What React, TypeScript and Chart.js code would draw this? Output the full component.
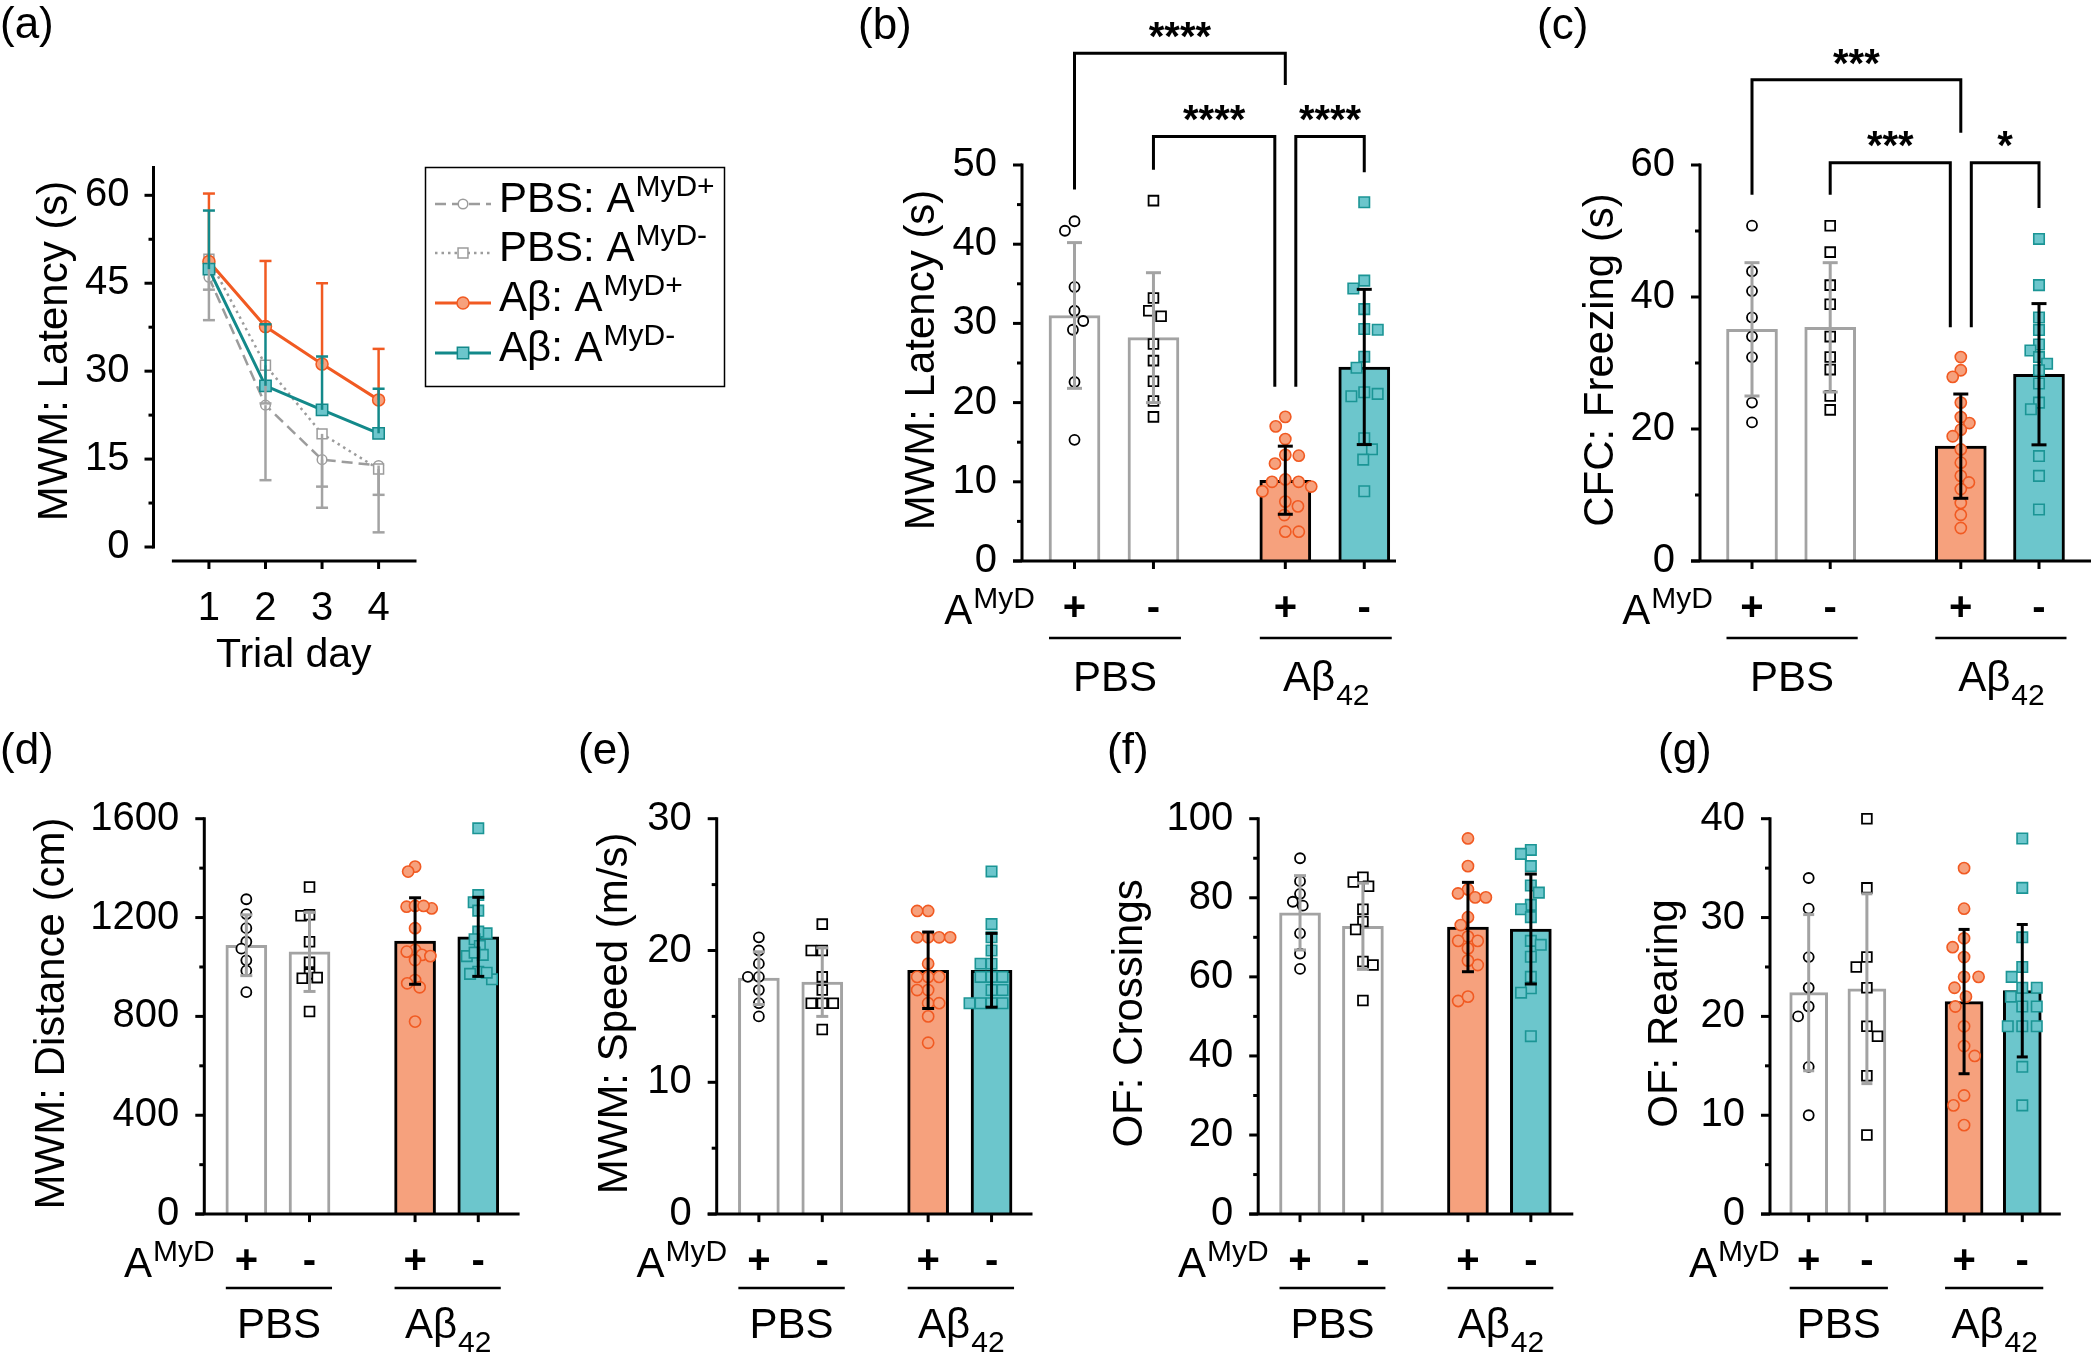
import React, { useEffect, useRef } from 'react';
import { Chart, registerables } from 'chart.js';

Chart.register(...registerables);

const FONT = '"Liberation Sans", Arial, Helvetica, sans-serif';
const INK = '#000000';
const PBS_GRAY = '#A3A3A3';
const LINE_GRAY = '#9C9C9C';
const ORANGE = '#F15A22';
const ORANGE_FILL = '#F6A17D';
const TEAL_LINE = '#13898A';
const TEAL_EDGE = '#1B9595';
const TEAL_FILL = '#6CC6CC';

// ---------- (a) MWM acquisition, latency per trial day ----------
const trialDays = [1, 2, 3, 4];
const latencyTicksA = [0, 15, 30, 45, 60];
const latencyMinorA = [7.5, 22.5, 37.5, 52.5];
const pbsPlusDaily = [46.0, 24.2, 14.9, 13.9];
const pbsPlusDailyErr = [7.3, 12.8, 8.2, 11.4];
const pbsMinusDaily = [49.1, 31.0, 19.3, 13.3];
const pbsMinusDailyErr = [5.2, 6.5, 9.0, 4.4];
const abPlusDaily = [48.7, 37.6, 31.2, 25.1];
const abPlusDailyErr = [11.6, 11.2, 13.8, 8.7];
const abMinusDaily = [47.4, 27.5, 23.4, 19.4];
const abMinusDailyErr = [10.0, 10.5, 9.1, 7.6];
const legendLabels = ['PBS: A', 'PBS: A', 'A\u03B2: A', 'A\u03B2: A'];
const legendSups = ['MyD+', 'MyD-', 'MyD+', 'MyD-'];

// ---------- shared group labels ----------
const groupSigns = ['+', '-', '+', '-'];
const treatmentNames = ['PBS', 'A\u03B2'];
const treatmentSubs = ['', '42'];

// ---------- (b) MWM latency ----------
const latencyTicks = [0, 10, 20, 30, 40, 50];
const latencyMinor = [5, 15, 25, 35, 45];
const latencyMeans = [31.0, 28.2, 10.2, 24.5];
const latencySDs = [9.2, 8.2, 4.3, 9.8];
const latencyPbsPlus = [41.7, 42.9, 34.6, 31.6, 29.2, 30.3, 22.6, 15.3];
const latencyPbsMinus = [45.5, 33.2, 31.6, 30.9, 27.4, 25.3, 22.7, 20.2, 18.2];
const latencyAbPlus = [18.2, 17.0, 15.4, 13.3, 13.4, 12.3, 10.3, 10.0, 10.0, 9.4, 8.8, 7.5, 6.9, 5.8, 3.7, 3.7];
const latencyAbMinus = [45.3, 35.4, 34.4, 31.8, 29.2, 29.3, 25.8, 24.4, 21.1, 21.3, 20.8, 15.5, 14.1, 12.8, 8.8];

// ---------- (c) CFC freezing ----------
const freezingTicks = [0, 20, 40, 60];
const freezingMinor = [10, 30, 50];
const freezingMeans = [35.1, 35.4, 17.4, 28.3];
const freezingSDs = [10.1, 9.8, 7.9, 10.7];
const freezingPbsPlus = [50.8, 43.9, 40.9, 36.9, 34.0, 30.9, 24.0, 21.0];
const freezingPbsMinus = [50.8, 46.8, 41.8, 38.9, 34.0, 30.9, 29.0, 25.0, 22.9];
const freezingAbPlus = [30.9, 28.9, 27.9, 24.0, 20.9, 21.8, 19.9, 18.9, 16.9, 14.9, 12.9, 11.9, 10.9, 8.8, 7.0, 5.0];
const freezingAbMinus = [48.8, 41.8, 36.9, 35.0, 32.8, 31.9, 30.9, 29.9, 28.9, 26.9, 24.0, 23.0, 15.9, 12.9, 7.8];

// ---------- (d) MWM distance ----------
const distanceTicks = [0, 400, 800, 1200, 1600];
const distanceMinor = [200, 600, 1000, 1400];
const distanceMeans = [1088, 1061, 1105, 1122];
const distanceSDs = [123, 160, 175, 160];
const distancePbsPlus = [1274, 1214, 1157, 1102, 1074, 1027, 985, 898];
const distancePbsMinus = [1324, 1207, 1211, 1102, 1019, 972, 954, 957, 820];
const distanceAbPlus = [1406, 1386, 1237, 1244, 1247, 1247, 1157, 1069, 1049, 1028, 1044, 1062, 947, 918, 934, 779];
const distanceAbMinus = [1561, 1291, 1262, 1228, 1136, 1143, 1112, 1085, 1044, 1049, 1058, 950, 981, 972, 977];

// ---------- (e) MWM speed ----------
const speedTicks = [0, 10, 20, 30];
const speedMinor = [5, 15, 25];
const speedMeans = [17.9, 17.6, 18.5, 18.5];
const speedSDs = [2.0, 2.6, 2.9, 2.8];
const speedPbsPlus = [21, 20, 19, 18, 18, 17, 16, 15];
const speedPbsMinus = [22, 20, 20, 18, 17, 16, 16, 16, 14];
const speedAbPlus = [23, 23, 21, 21, 21, 21, 19, 18, 18, 18, 17, 17, 16, 16, 15, 13];
const speedAbMinus = [26, 22, 21, 20, 19, 19, 18, 18, 18, 17, 17, 16, 16, 16, 16];

// ---------- (f) OF crossings ----------
const crossingTicks = [0, 20, 40, 60, 80, 100];
const crossingMinor = [10, 30, 50, 70, 90];
const crossingMeans = [76.2, 72.8, 72.6, 72.1];
const crossingSDs = [9.4, 10.9, 11.3, 13.9];
const crossingPbsPlus = [90.0, 84.2, 79.0, 81.0, 78.0, 71.0, 65.9, 62.0];
const crossingPbsMinus = [85.2, 82.9, 84.0, 77.1, 74.0, 72.0, 63.9, 63.0, 54.0];
const crossingAbPlus = [95.0, 88.0, 82.1, 81.1, 80.1, 80.1, 75.1, 73.1, 70.2, 69.1, 69.1, 67.2, 63.0, 64.1, 53.9, 55.0];
const crossingAbMinus = [92.1, 91.1, 88.0, 83.1, 81.3, 78.2, 77.1, 75.1, 69.1, 68.1, 65.1, 60.0, 57.1, 56.0, 45.0];

// ---------- (g) OF rearing ----------
const rearingTicks = [0, 10, 20, 30, 40];
const rearingMinor = [5, 15, 25, 35];
const rearingMeans = [22.4, 22.8, 21.5, 22.6];
const rearingSDs = [7.9, 9.6, 7.3, 6.7];
const rearingPbsPlus = [34, 30.9, 26, 22.9, 21, 20, 14.9, 10];
const rearingPbsMinus = [40, 33, 26, 25, 22.9, 18, 19, 14, 8];
const rearingAbPlus = [35, 30.9, 27.9, 27, 26, 24, 24, 22.9, 22, 21, 19, 17, 16, 12, 11, 9];
const rearingAbMinus = [38, 33, 28, 25, 24, 22.9, 22.9, 22, 21, 21, 19, 19, 19, 14.9, 11];

// ---------- layout ----------
const GROUP_GAP = 0.67;
const X_MIN = -0.665;
const X_AXIS_BOX = 90;
const groupPositions = groupSigns.map((_, i) => i + (i >= 2 ? GROUP_GAP : 0));

const groupStyles = [
  { shape: 'circle', r: 5.0, fill: '#FFFFFF', edge: INK, ew: 1.8, bar: '#FFFFFF', barEdge: PBS_GRAY, err: PBS_GRAY },
  { shape: 'rect', r: 6.9, fill: '#FFFFFF', edge: INK, ew: 1.8, bar: '#FFFFFF', barEdge: PBS_GRAY, err: PBS_GRAY },
  { shape: 'circle', r: 5.6, fill: ORANGE_FILL, edge: ORANGE, ew: 1.6, bar: ORANGE_FILL, barEdge: INK, err: INK },
  { shape: 'rect', r: 7.4, fill: TEAL_FILL, edge: TEAL_EDGE, ew: 1.6, bar: TEAL_FILL, barEdge: INK, err: INK },
];

const latencyBrackets = [
  { from: 0, fromShift: 0, to: 2, toShift: 0, top: 64.1, fromEnd: 46.9, toEnd: 60.1, stars: '****', starsAt: 67.3 },
  { from: 1, fromShift: 0, to: 2, toShift: -10.5, top: 53.6, fromEnd: 49.4, toEnd: 22.0, stars: '****', starsAt: 56.8 },
  { from: 2, fromShift: 10.5, to: 3, toShift: 0, top: 53.6, fromEnd: 22.0, toEnd: 49.1, stars: '****', starsAt: 56.8 },
];
const freezingBrackets = [
  { from: 0, fromShift: 0, to: 2, toShift: 0, top: 72.9, fromEnd: 55.5, toEnd: 64.9, stars: '***', starsAt: 76.7 },
  { from: 1, fromShift: 0, to: 2, toShift: -10.5, top: 60.35, fromEnd: 55.5, toEnd: 35.4, stars: '***', starsAt: 64.2 },
  { from: 2, fromShift: 10.5, to: 3, toShift: 0, top: 60.35, fromEnd: 35.4, toEnd: 53.5, stars: '*', starsAt: 64.2 },
];

const barPanels: any[] = [
  { tag: '(b)', tagPos: [858, 39], title: 'MWM: Latency (s)', titleX: 934, canvas: [840, 0, 580, 722], area: [1022, 165, 1396, 561], xMax: 4.072, yMax: 50, ticks: latencyTicks, minor: latencyMinor, means: latencyMeans, sds: latencySDs, points: [latencyPbsPlus, latencyPbsMinus, latencyAbPlus, latencyAbMinus], barPx: 51, swarmPx: 13.5, capPx: 7.5, lineOff: 77, nameOff: 130, brackets: latencyBrackets },
  { tag: '(c)', tagPos: [1537, 39], title: 'CFC: Freezing (s)', titleX: 1613, canvas: [1420, 0, 680, 722], area: [1700, 165, 2095, 561], xMax: 4.335, yMax: 60, ticks: freezingTicks, minor: freezingMinor, means: freezingMeans, sds: freezingSDs, points: [freezingPbsPlus, freezingPbsMinus, freezingAbPlus, freezingAbMinus], barPx: 51, swarmPx: 10.5, capPx: 7.5, lineOff: 77, nameOff: 130, brackets: freezingBrackets },
  { tag: '(d)', tagPos: [0, 764], title: 'MWM: Distance (cm)', titleX: 64, canvas: [0, 722, 560, 633], area: [204.3, 818.7, 519.6, 1214.1], xMax: 4.324, yMax: 1600, ticks: distanceTicks, minor: distanceMinor, means: distanceMeans, sds: distanceSDs, points: [distancePbsPlus, distancePbsMinus, distanceAbPlus, distanceAbMinus], barPx: 41, swarmPx: 8.5, capPx: 6, lineOff: 74, nameOff: 124 },
  { tag: '(e)', tagPos: [578, 764], title: 'MWM: Speed (m/s)', titleX: 627, canvas: [560, 722, 540, 633], area: [716.7, 818.7, 1032.5, 1214.1], xMax: 4.316, yMax: 30, ticks: speedTicks, minor: speedMinor, means: speedMeans, sds: speedSDs, points: [speedPbsPlus, speedPbsMinus, speedAbPlus, speedAbMinus], barPx: 41, swarmPx: 11, capPx: 6, lineOff: 74, nameOff: 124 },
  { tag: '(f)', tagPos: [1107, 764], title: 'OF: Crossings', titleX: 1142, canvas: [1100, 722, 520, 633], area: [1258.2, 818.7, 1573.3, 1214.1], xMax: 4.345, yMax: 100, ticks: crossingTicks, minor: crossingMinor, means: crossingMeans, sds: crossingSDs, points: [crossingPbsPlus, crossingPbsMinus, crossingAbPlus, crossingAbMinus], barPx: 41, swarmPx: 10.7, capPx: 6, lineOff: 74, nameOff: 124 },
  { tag: '(g)', tagPos: [1658, 764], title: 'OF: Rearing', titleX: 1676.6, canvas: [1620, 722, 480, 633], area: [1770, 818.7, 2060.8, 1214.1], xMax: 4.332, yMax: 40, ticks: rearingTicks, minor: rearingMinor, means: rearingMeans, sds: rearingSDs, points: [rearingPbsPlus, rearingPbsMinus, rearingAbPlus, rearingAbMinus], barPx: 38, swarmPx: 14.5, capPx: 5.5, lineOff: 74, nameOff: 124 },
];

// ---------- helpers ----------
function seg(ctx: CanvasRenderingContext2D, x1: number, y1: number, x2: number, y2: number) {
  ctx.beginPath();
  ctx.moveTo(x1, y1);
  ctx.lineTo(x2, y2);
  ctx.stroke();
}

function setFont(ctx: CanvasRenderingContext2D, size: number, weight = 'normal') {
  ctx.font = `${weight} ${size}px ${FONT}`;
}

function text(ctx: CanvasRenderingContext2D, s: string, x: number, y: number, size: number, align: CanvasTextAlign = 'left', weight = 'normal') {
  setFont(ctx, size, weight);
  ctx.textAlign = align;
  ctx.textBaseline = 'alphabetic';
  ctx.fillStyle = INK;
  ctx.fillText(s, x, y);
}

function measure(ctx: CanvasRenderingContext2D, s: string, size: number, weight = 'normal') {
  setFont(ctx, size, weight);
  return ctx.measureText(s).width;
}

function vTitle(ctx: CanvasRenderingContext2D, s: string, x: number, y: number, size: number) {
  ctx.save();
  ctx.translate(x, y);
  ctx.rotate(-Math.PI / 2);
  text(ctx, s, 0, 0, size, 'center');
  ctx.restore();
}

function marker(ctx: CanvasRenderingContext2D, shape: string, x: number, y: number, r: number, fill: string, edge: string, ew: number) {
  ctx.beginPath();
  if (shape === 'circle') ctx.arc(x, y, r, 0, Math.PI * 2);
  else {
    const h = r * Math.SQRT1_2;
    ctx.rect(x - h, y - h, 2 * h, 2 * h);
  }
  ctx.fillStyle = fill;
  ctx.fill();
  ctx.lineWidth = ew;
  ctx.strokeStyle = edge;
  ctx.stroke();
}

function swarmOffsets(values: number[], pxPerUnit: number, gap: number): number[] {
  const order = values.map((_, i) => i).sort((a, b) => values[b] - values[a] || a - b);
  const placed: { x: number; y: number }[] = [];
  const out = new Array(values.length).fill(0);
  let side = -1;
  for (const i of order) {
    const yy = values[i] * pxPerUnit;
    const cands = [0];
    for (const p of placed) {
      const dy = Math.abs(p.y - yy);
      if (dy < gap) {
        const dx = Math.sqrt(gap * gap - dy * dy);
        cands.push(p.x + dx, p.x - dx);
      }
    }
    const free = cands.filter((c) => placed.every((p) => Math.hypot(p.x - c, p.y - yy) >= gap - 0.01));
    free.sort((a, b) => {
      const d = Math.round(Math.abs(a) * 100) - Math.round(Math.abs(b) * 100);
      if (d !== 0) return d;
      return (Math.sign(b) === side ? 1 : 0) - (Math.sign(a) === side ? 1 : 0);
    });
    const chosen = free[0];
    if (chosen !== 0) side = -Math.sign(chosen);
    placed.push({ x: chosen, y: yy });
    out[i] = chosen;
  }
  return out;
}

// y scale box spans from canvas left (+1) to the chart area; x scale box is X_AXIS_BOX tall
function baseOptions(canvas: number[], area: number[]) {
  return {
    responsive: false,
    maintainAspectRatio: false,
    animation: false,
    devicePixelRatio: 1,
    events: [],
    layout: {
      padding: {
        left: 1,
        top: area[1] - canvas[1],
        right: canvas[0] + canvas[2] - area[2],
        bottom: canvas[1] + canvas[3] - area[3] - X_AXIS_BOX,
      },
    },
    plugins: { legend: { display: false }, tooltip: { enabled: false }, title: { display: false } },
  };
}

function yScale(yMax: number, ticks: number[], padding: number, boxWidth: number) {
  return {
    type: 'linear',
    min: 0,
    max: yMax,
    afterBuildTicks: (s: any) => { s.ticks = ticks.map((v) => ({ value: v })); },
    afterFit: (s: any) => { s.width = boxWidth; },
    grid: { display: false, drawTicks: false },
    border: { display: false },
    ticks: { autoSkip: false, padding, color: INK, font: { family: FONT, size: 40 }, callback: (v: any) => String(v) },
  };
}

// ---------- bar panel ----------
function buildBarPanel(p: any) {
  const [al, at, ar, ab] = p.area;
  const pxPerX = (ar - al) / (p.xMax - X_MIN);
  const pxPerY = (ab - at) / p.yMax;
  const barData = p.means.map((m: number, g: number) => ({ x: groupPositions[g], y: m }));
  const scatterSets = p.points.map((vals: number[], g: number) => {
    const st = groupStyles[g];
    const offs = swarmOffsets(vals, pxPerY, p.swarmPx);
    return {
      type: 'scatter',
      data: vals.map((v, k) => ({ x: groupPositions[g] + offs[k] / pxPerX, y: v })),
      pointStyle: st.shape === 'circle' ? 'circle' : 'rect',
      pointRadius: st.r,
      pointBackgroundColor: st.fill,
      pointBorderColor: st.edge,
      pointBorderWidth: st.ew,
      clip: false,
      order: 1,
    };
  });

  const plugin = {
    id: 'prismBars',
    afterDatasetsDraw(chart: any) {
      const ctx: CanvasRenderingContext2D = chart.ctx;
      const x = chart.scales.x;
      const y = chart.scales.y;
      const ca = chart.chartArea;
      const y0 = y.getPixelForValue(0);
      ctx.save();
      ctx.lineCap = 'butt';
      // error bars (mean ± SD)
      p.means.forEach((m: number, g: number) => {
        const cx = x.getPixelForValue(groupPositions[g]);
        const t = y.getPixelForValue(m + p.sds[g]);
        const b = y.getPixelForValue(m - p.sds[g]);
        ctx.strokeStyle = groupStyles[g].err;
        ctx.lineWidth = 3;
        seg(ctx, cx, t, cx, b);
        seg(ctx, cx - p.capPx, t, cx + p.capPx, t);
        seg(ctx, cx - p.capPx, b, cx + p.capPx, b);
      });
      // axes
      ctx.strokeStyle = INK;
      ctx.lineWidth = 3;
      const yt = y.getPixelForValue(p.yMax);
      seg(ctx, ca.left, yt - 1.5, ca.left, y0);
      p.ticks.forEach((v: number) => { const py = y.getPixelForValue(v); seg(ctx, ca.left - 9, py, ca.left, py); });
      p.minor.forEach((v: number) => { const py = y.getPixelForValue(v); seg(ctx, ca.left - 5, py, ca.left, py); });
      seg(ctx, ca.left - 9, y0, ca.right, y0);
      groupPositions.forEach((v) => { const px = x.getPixelForValue(v); seg(ctx, px, y0, px, y0 + 8); });
      // significance brackets
      (p.brackets || []).forEach((br: any) => {
        const x1 = x.getPixelForValue(groupPositions[br.from]) + br.fromShift;
        const x2 = x.getPixelForValue(groupPositions[br.to]) + br.toShift;
        const top = y.getPixelForValue(br.top);
        ctx.strokeStyle = INK;
        ctx.lineWidth = 3;
        ctx.lineJoin = 'miter';
        ctx.beginPath();
        ctx.moveTo(x1, y.getPixelForValue(br.fromEnd));
        ctx.lineTo(x1, top);
        ctx.lineTo(x2, top);
        ctx.lineTo(x2, y.getPixelForValue(br.toEnd));
        ctx.stroke();
        text(ctx, br.stars, (x1 + x2) / 2, y.getPixelForValue(br.starsAt) + 22, 40, 'center', 'bold');
      });
      ctx.restore();
    },
    afterDraw(chart: any) {
      const ctx: CanvasRenderingContext2D = chart.ctx;
      const x = chart.scales.x;
      const y = chart.scales.y;
      const ox = p.canvas[0];
      const oy = p.canvas[1];
      const y0 = y.getPixelForValue(0);
      ctx.save();
      text(ctx, p.tag, p.tagPos[0] - ox, p.tagPos[1] - oy, 44);
      vTitle(ctx, p.title, p.titleX - ox, (y0 + y.getPixelForValue(p.yMax)) / 2 - 3, 42);
      // A^MyD row label
      const supRight = x.getPixelForValue(groupPositions[0] - 0.5);
      const wSup = measure(ctx, 'MyD', 30);
      text(ctx, 'MyD', supRight - wSup, y0 + 47, 30);
      text(ctx, 'A', supRight - wSup - 1, y0 + 63, 42, 'right');
      // treatment group lines + names
      [[0, 1], [2, 3]].forEach(([i, j], k) => {
        const l = x.getPixelForValue(groupPositions[i]) - p.barPx / 2;
        const r = x.getPixelForValue(groupPositions[j]) + p.barPx / 2 + 2;
        ctx.strokeStyle = INK;
        ctx.lineWidth = 2.5;
        seg(ctx, l, y0 + p.lineOff, r, y0 + p.lineOff);
        const name = treatmentNames[k];
        const sub = treatmentSubs[k];
        const wMain = measure(ctx, name, 42);
        const wSub = sub ? measure(ctx, sub, 30) : 0;
        const start = (l + r) / 2 - (wMain + wSub) / 2;
        const base = y0 + p.nameOff;
        text(ctx, name, start, base, 42);
        if (sub) text(ctx, sub, start + wMain + 1, base + 14, 30);
      });
      ctx.restore();
    },
  };

  return {
    type: 'bar',
    data: {
      datasets: [
        ...scatterSets,
        {
          type: 'bar',
          data: barData,
          backgroundColor: groupStyles.map((s) => s.bar),
          borderColor: groupStyles.map((s) => s.barEdge),
          borderWidth: 3,
          barThickness: p.barPx,
          order: 10,
        },
      ],
    },
    options: {
      ...baseOptions(p.canvas, p.area),
      scales: {
        x: {
          type: 'linear',
          min: X_MIN,
          max: p.xMax,
          offset: false,
          afterBuildTicks: (s: any) => { s.ticks = groupPositions.map((v) => ({ value: v })); },
          afterFit: (s: any) => { s.height = X_AXIS_BOX; },
          grid: { display: false, drawTicks: false },
          border: { display: false },
          ticks: {
            autoSkip: false,
            maxRotation: 0,
            minRotation: 0,
            padding: 23.5,
            color: INK,
            font: { family: FONT, size: 40, weight: 'bold' },
            callback: (_v: any, i: number) => groupSigns[i],
          },
        },
        y: yScale(p.yMax, p.ticks, 25, al - p.canvas[0] - 1),
      },
    },
    plugins: [plugin],
  };
}

// ---------- line panel (a) ----------
const panelA = { canvas: [0, 0, 800, 722], area: [153.5, 166, 416.5, 547], xMin: 0.02, xMax: 4.67, yMax: 65 };

const lineSeries = [
  { values: pbsPlusDaily, err: pbsPlusDailyErr, dir: -1, color: LINE_GRAY, width: 2.5, dash: [11, 6], shape: 'circle', r: 4.8, fill: '#FFFFFF', edge: LINE_GRAY, ew: 1.5, errColor: PBS_GRAY, order: 4 },
  { values: pbsMinusDaily, err: pbsMinusDailyErr, dir: -1, color: LINE_GRAY, width: 2.5, dash: [2.5, 4], shape: 'rect', r: 7, fill: '#FFFFFF', edge: LINE_GRAY, ew: 1.5, errColor: PBS_GRAY, order: 3 },
  { values: abPlusDaily, err: abPlusDailyErr, dir: 1, color: ORANGE, width: 3, dash: [], shape: 'circle', r: 6, fill: ORANGE_FILL, edge: ORANGE, ew: 1.5, errColor: ORANGE, order: 2 },
  { values: abMinusDaily, err: abMinusDailyErr, dir: 1, color: TEAL_LINE, width: 3, dash: [], shape: 'rect', r: 8, fill: TEAL_FILL, edge: TEAL_LINE, ew: 1.5, errColor: TEAL_LINE, order: 1 },
];

function buildLinePanel() {
  const p = panelA;
  const plugin = {
    id: 'prismLines',
    afterDatasetsDraw(chart: any) {
      const ctx: CanvasRenderingContext2D = chart.ctx;
      const x = chart.scales.x;
      const y = chart.scales.y;
      const ca = chart.chartArea;
      const y0 = y.getPixelForValue(0);
      ctx.save();
      ctx.lineCap = 'butt';
      // one-sided error bars
      lineSeries.forEach((s) => {
        ctx.strokeStyle = s.errColor;
        ctx.lineWidth = 2.5;
        s.values.forEach((v, i) => {
          const px = x.getPixelForValue(trialDays[i]);
          const a = y.getPixelForValue(v);
          const b = y.getPixelForValue(v + s.dir * s.err[i]);
          seg(ctx, px, a, px, b);
          seg(ctx, px - 6, b, px + 6, b);
        });
      });
      // axes
      ctx.strokeStyle = INK;
      ctx.lineWidth = 3;
      seg(ctx, ca.left, ca.top, ca.left, y0 + 1.5);
      latencyTicksA.forEach((v) => { const py = y.getPixelForValue(v); seg(ctx, ca.left - 9, py, ca.left, py); });
      latencyMinorA.forEach((v) => { const py = y.getPixelForValue(v); seg(ctx, ca.left - 5, py, ca.left, py); });
      const xa = y0 + 14;
      seg(ctx, x.getPixelForValue(0.345), xa, ca.right, xa);
      trialDays.forEach((d) => { const px = x.getPixelForValue(d); seg(ctx, px, xa, px, xa + 8); });
      ctx.restore();
    },
    afterDraw(chart: any) {
      const ctx: CanvasRenderingContext2D = chart.ctx;
      const x = chart.scales.x;
      ctx.save();
      text(ctx, '(a)', 0, 38, 44);
      vTitle(ctx, 'MWM: Latency (s)', 67, 351, 42);
      text(ctx, 'Trial day', (x.getPixelForValue(1) + x.getPixelForValue(4)) / 2, 667, 41, 'center');
      // legend
      ctx.strokeStyle = INK;
      ctx.lineWidth = 1.5;
      ctx.strokeRect(425.5, 167.5, 299, 219);
      const baselines = [212, 261, 311, 361];
      lineSeries.forEach((s, i) => {
        const ly = baselines[i] - 8;
        ctx.save();
        ctx.strokeStyle = s.color;
        ctx.lineWidth = s.width;
        ctx.setLineDash(s.dash);
        seg(ctx, 435, ly, 491, ly);
        ctx.restore();
        marker(ctx, s.shape, 463, ly, s.r, s.fill, s.edge, s.ew);
        text(ctx, legendLabels[i], 499, baselines[i], 42);
        const w = measure(ctx, legendLabels[i], 42);
        text(ctx, legendSups[i], 499 + w + 1, baselines[i] - 16, 30);
      });
      ctx.restore();
    },
  };

  return {
    type: 'line',
    data: {
      datasets: lineSeries.map((s) => ({
        data: s.values.map((v, i) => ({ x: trialDays[i], y: v })),
        borderColor: s.color,
        borderWidth: s.width,
        borderDash: s.dash,
        tension: 0,
        fill: false,
        pointStyle: s.shape === 'circle' ? 'circle' : 'rect',
        pointRadius: s.r,
        pointBackgroundColor: s.fill,
        pointBorderColor: s.edge,
        pointBorderWidth: s.ew,
        clip: false,
        order: s.order,
      })),
    },
    options: {
      ...baseOptions(p.canvas, p.area),
      scales: {
        x: {
          type: 'linear',
          min: p.xMin,
          max: p.xMax,
          afterBuildTicks: (s: any) => { s.ticks = trialDays.map((v) => ({ value: v })); },
          afterFit: (s: any) => { s.height = X_AXIS_BOX; },
          grid: { display: false, drawTicks: false },
          border: { display: false },
          ticks: { autoSkip: false, maxRotation: 0, minRotation: 0, padding: 38, color: INK, font: { family: FONT, size: 40 }, callback: (v: any) => String(v) },
        },
        y: yScale(p.yMax, latencyTicksA, 24, p.area[0] - p.canvas[0] - 1),
      },
    },
    plugins: [plugin],
  };
}

// ---------- React ----------
function ChartCanvas({ rect, build }: { rect: number[]; build: () => any }) {
  const ref = useRef<HTMLCanvasElement>(null);
  useEffect(() => {
    const chart = new Chart(ref.current as HTMLCanvasElement, build());
    return () => chart.destroy();
  }, []);
  return (
    <canvas
      ref={ref}
      width={rect[2]}
      height={rect[3]}
      style={{ position: 'absolute', left: rect[0], top: rect[1], width: rect[2], height: rect[3] }}
    />
  );
}

export default function App() {
  return (
    <div style={{ position: 'absolute', left: 0, top: 0, width: 2100, height: 1355, background: '#FFFFFF', overflow: 'hidden' }}>
      <ChartCanvas rect={panelA.canvas} build={buildLinePanel} />
      {barPanels.map((p) => (
        <ChartCanvas key={p.tag} rect={p.canvas} build={() => buildBarPanel(p)} />
      ))}
    </div>
  );
}
